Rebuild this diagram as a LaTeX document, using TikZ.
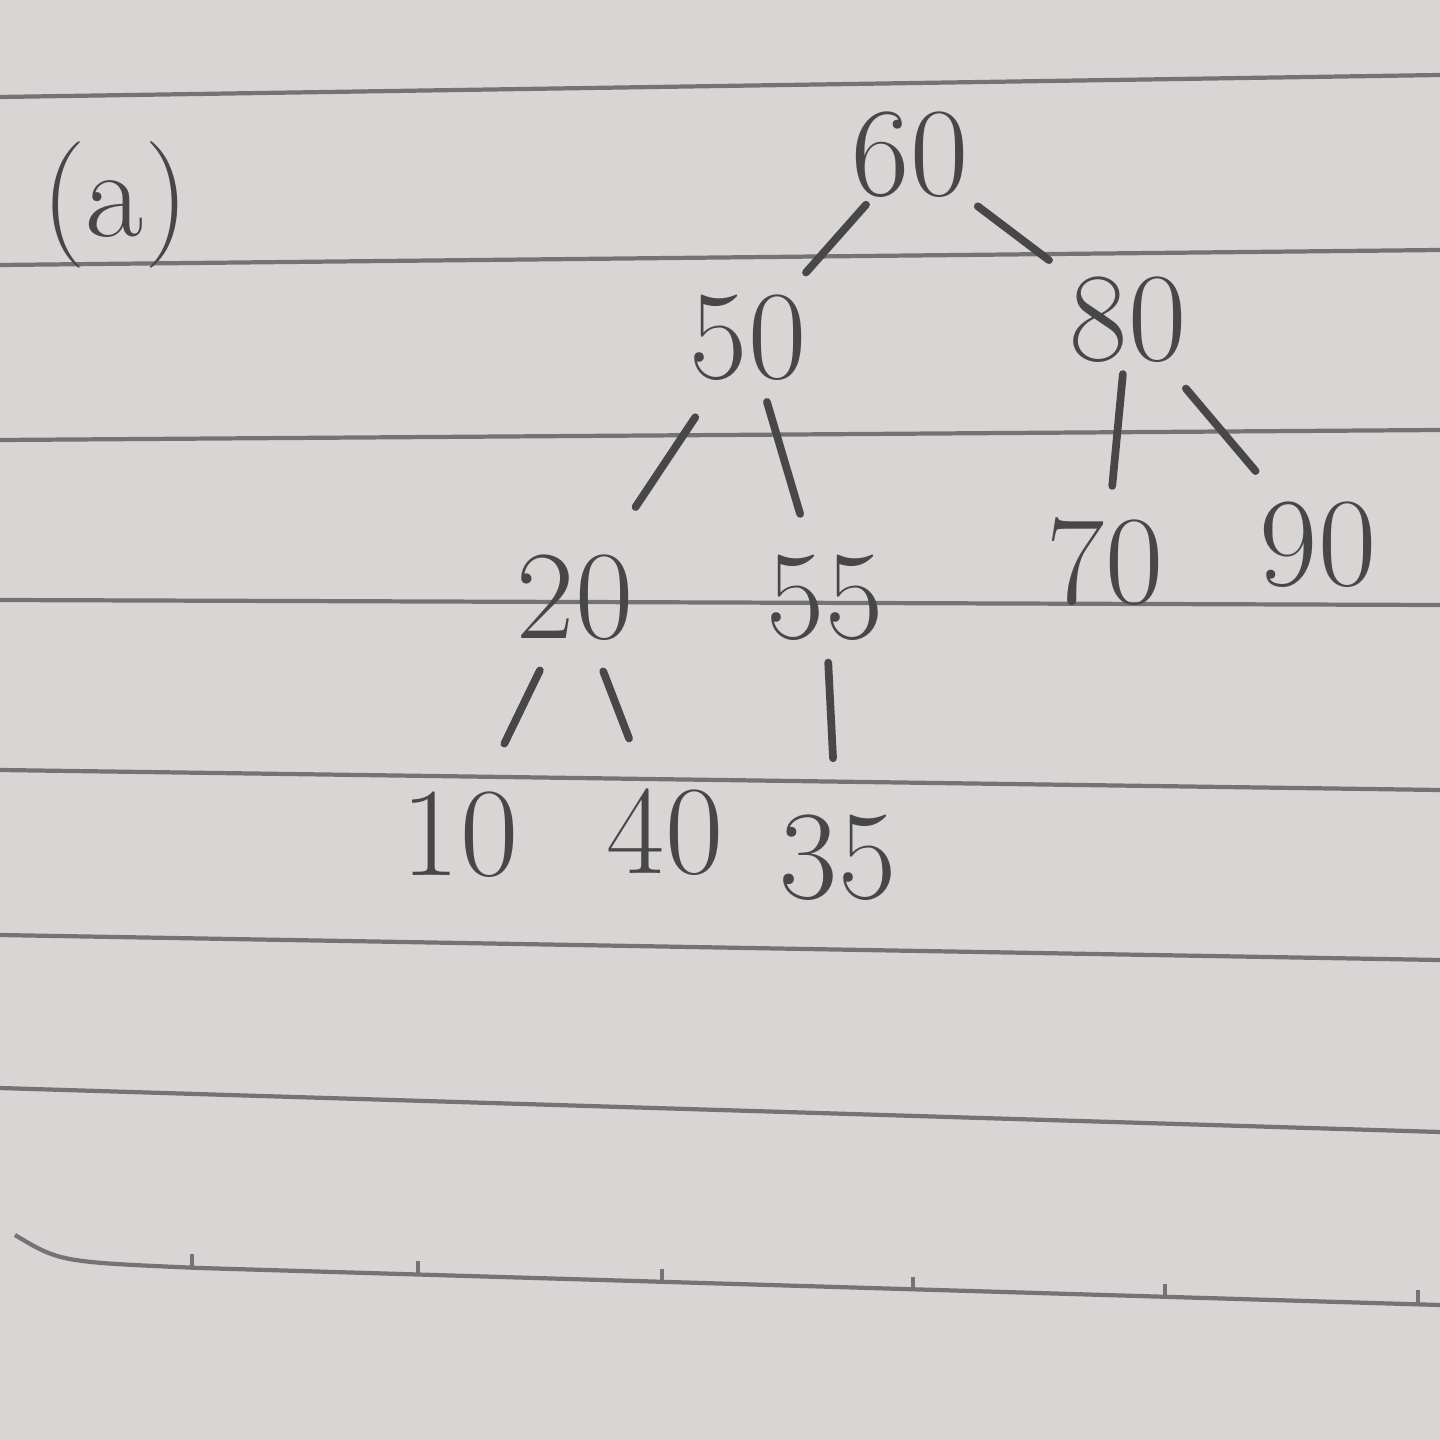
\documentclass[tikz,border=0pt]{standalone}
\begin{document}
\begin{tikzpicture}[x=0.01cm, y=-0.01cm]
		\tikzset{nd/.style={text=pencil, font=\fontsize{36}{40}\selectfont, inner sep=1pt}};
		\tikzset{ed/.style={draw=pencil, line width=2.2pt, line cap=round}};
		\tikzset{rule/.style={draw=black!55, line width=1.2pt}};
		\colorlet{pencil}{black!72}
		\definecolor{paper}{RGB}{218,213,213}

		\useasboundingbox[fill=paper] (0, 0) rectangle (1440, 1440);

		\draw[rule] (0, 97) to (1440, 75);
		\draw[rule] (0, 265) to (1440, 250);
		\draw[rule] (0, 440) to (1440, 430);
		\draw[rule] (0, 600) to (1440, 605);
		\draw[rule] (0, 770) to (1440, 790);
		\draw[rule] (0, 935) to (1440, 960);
		\draw[rule] (0, 1088) to (1440, 1132);
		\draw[rule] (15, 1235) .. controls (60, 1262) .. (200, 1268) to (1440, 1305);
		\foreach \tx/\ty in {192/1268, 418/1275, 662/1283, 913/1291, 1165/1298, 1418/1304}
			\draw[rule] (\tx, \ty) to (\tx, \ty-14);

		\node[nd] (lbl) at (115, 205) {(a)};
		\node[nd] (60) at (910, 155) {60};
		\node[nd] (50) at (748, 338) {50};
		\node[nd] (80) at (1128, 320) {80};
		\node[nd] (20) at (575, 598) {20};
		\node[nd] (55) at (825, 598) {55};
		\node[nd] (70) at (1105, 562) {70};
		\node[nd] (90) at (1318, 545) {90};
		\node[nd] (10) at (460, 835) {10};
		\node[nd] (40) at (665, 832) {40};
		\node[nd] (35) at (838, 858) {35};

		\draw[ed, shorten <=1pt, shorten >=7pt] (60) to (50);
		\draw[ed, shorten <=2pt, shorten >=6pt] (60) to (80);
		\draw[ed, shorten <=11pt, shorten >=15pt] (50) to (20);
		\draw[ed, shorten <=5pt, shorten >=11pt] (50) to (55);
		\draw[ed, shorten <=2pt, shorten >=8pt] (80) to (70);
		\draw[ed, shorten <=8pt, shorten >=10pt] (80) to (90);
		\draw[ed, shorten <=8pt, shorten >=14pt] (20) to (10);
		\draw[ed, shorten <=8pt, shorten >=14pt] (20) to (40);
		\draw[ed, shorten <=5pt, shorten >=15pt] (55) to (35);

\end{tikzpicture}
\end{document}
